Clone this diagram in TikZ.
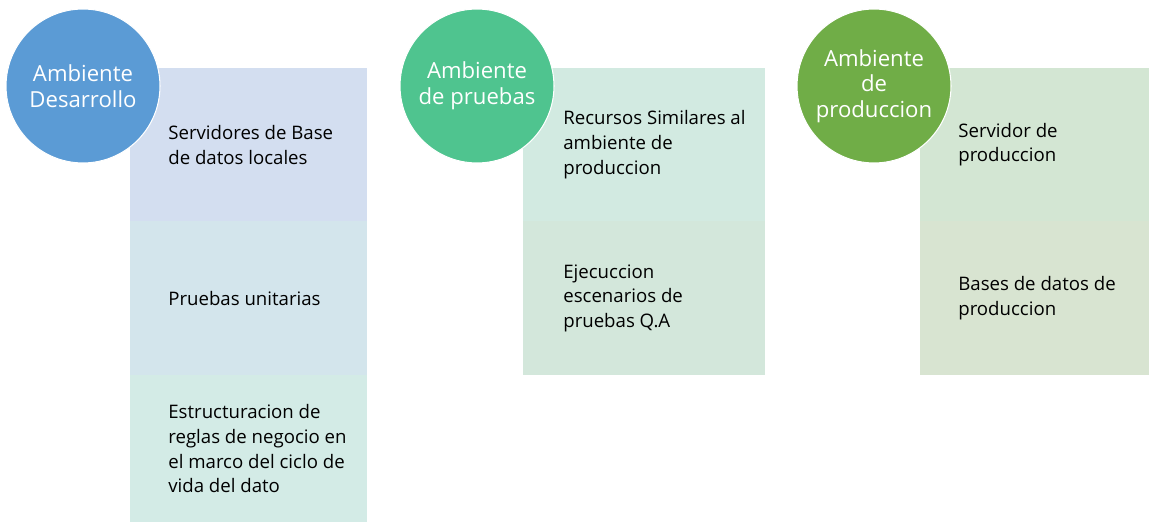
\documentclass[tikz,border=0pt]{standalone}
\usepackage{fontspec}
\setmainfont{Open Sans}
\usepackage{xcolor}
\usetikzlibrary{positioning}
\definecolor{devblue}{HTML}{5B9BD5}
\definecolor{qagreen}{HTML}{4FC48F}
\definecolor{prodgreen}{HTML}{70AD47}
\definecolor{boxdevA}{HTML}{D3DEF0}
\definecolor{boxdevB}{HTML}{D3E5EC}
\definecolor{boxdevC}{HTML}{D3EBE6}
\definecolor{boxqaA}{HTML}{D2EAE1}
\definecolor{boxqaB}{HTML}{D3E7DB}
\definecolor{boxprodA}{HTML}{D3E6D3}
\definecolor{boxprodB}{HTML}{D8E4D1}

\begin{document}
\begin{tikzpicture}[x=0.02cm,y=-0.02cm,
  env/.style={circle,draw=white,line width=0.6pt,minimum size=3.08cm,inner sep=0pt,
              align=center,text=white,font=\fontsize{12.6}{14.6}\selectfont},
  sec/.style={minimum width=4.74cm,minimum height=3.07cm,inner sep=0pt,outer sep=0pt,
              anchor=north west},
  txt/.style={align=left,inner sep=0pt,font=\fontsize{10.6}{14.1}\selectfont}]
\useasboundingbox (0,0) rectangle (1149,523);

% Desarrollo column
\node[sec,fill=boxdevA] (devA) at (130,68) {};
\node[sec,fill=boxdevB,below=0pt of devA] (devB) {};
\node[sec,fill=boxdevC,below=0pt of devB,minimum height=2.95cm] (devC) {};
\node[txt,right=0.76cm of devA.west] (tdevA) {Servidores de Base\\de datos locales};
\node[txt,right=0.76cm of devB.west] (tdevB) {Pruebas unitarias};
\node[txt,right=0.76cm of devC.west] (tdevC) {Estructuracion de\\reglas de negocio en\\el marco del ciclo de\\vida del dato};
\node[env,fill=devblue] (dev) at (83,86) {Ambiente\\Desarrollo};

% Pruebas column
\node[sec,fill=boxqaA,minimum width=4.84cm] (qaA) at (523,68) {};
\node[sec,fill=boxqaB,minimum width=4.84cm,below=0pt of qaA] (qaB) {};
\node[txt,right=0.8cm of qaA.west] (tqaA) {Recursos Similares al\\ambiente de\\produccion};
\node[txt,right=0.8cm of qaB.west] (tqaB) {Ejecuccion\\escenarios de\\pruebas Q.A};
\node[env,fill=qagreen] (qa) at (477,86) {Ambiente\\de pruebas};

% Produccion column
\node[sec,fill=boxprodA,minimum width=4.58cm] (prodA) at (920,68) {};
\node[sec,fill=boxprodB,minimum width=4.58cm,below=0pt of prodA] (prodB) {};
\node[txt,right=0.76cm of prodA.west] (tprodA) {Servidor de\\produccion};
\node[txt,right=0.76cm of prodB.west] (tprodB) {Bases de datos de\\produccion};
\node[env,fill=prodgreen] (prod) at (874,86) {Ambiente\\de\\produccion};
\end{tikzpicture}
\end{document}
